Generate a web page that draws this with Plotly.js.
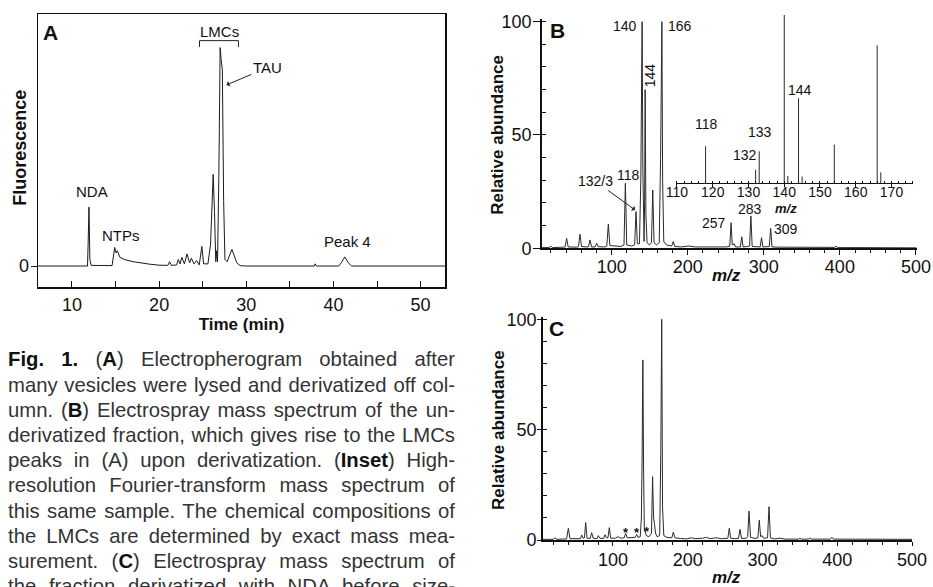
<!DOCTYPE html>
<html><head><meta charset="utf-8">
<script src="https://cdn.plot.ly/plotly-3.0.1.min.js"></script>
<style>
html,body{margin:0;padding:0;background:#fff;overflow:hidden;width:933px;height:587px;}
#chart{position:absolute;left:0;top:0;width:933px;height:587px;}
#cap{position:absolute;left:8px;top:347.4px;width:447px;font-family:"Liberation Sans",Arial,sans-serif;font-size:20.3px;line-height:25.2px;color:#333;}
#cap div{text-align:justify;text-align-last:justify;}
#cap b{color:#111;}
</style></head>
<body>
<div id="chart"></div>
<div id="cap">
<div><b>Fig. 1.</b> (<b>A</b>) Electropherogram obtained after</div>
<div>many vesicles were lysed and derivatized off col-</div>
<div>umn. (<b>B</b>) Electrospray mass spectrum of the un-</div>
<div>derivatized fraction, which gives rise to the LMCs</div>
<div>peaks in (A) upon derivatization. (<b>Inset</b>) High-</div>
<div>resolution Fourier-transform mass spectrum of</div>
<div>this same sample. The chemical compositions of</div>
<div>the LMCs are determined by exact mass mea-</div>
<div>surement. (<b>C</b>) Electrospray mass spectrum of</div>
<div>the fraction derivatized with NDA before size-</div>
</div>
<script>
// Panel A: electropherogram (time in min, fluorescence, relative units)
const timeA = [6.1, 11.6, 11.78, 11.85, 11.95, 12.05, 12.2, 14.6, 14.75, 14.9, 15.05, 15.2, 15.5, 16.0, 17.0, 18.0, 19.0, 20.0, 21.0, 21.2, 21.4, 22.0, 22.2, 22.4, 22.6, 22.9, 23.2, 23.5, 23.7, 24.0, 24.3, 24.6, 24.9, 25.1, 25.6, 25.9, 26.05, 26.2, 26.35, 26.5, 26.6, 26.7, 26.85, 27.0, 27.1, 27.25, 27.4, 27.55, 27.8, 28.1, 28.35, 28.6, 28.9, 29.3, 30, 37.8, 37.9, 38.05, 40.6, 40.9, 41.3, 41.7, 42.1, 52.8];
const fluorA = [0, 0, 0, 10, 27, 3, 0.3, 0.2, 5, 8.5, 6, 7, 4, 3, 2, 1.3, 0.8, 0.4, 0.3, 2, 0.3, 0.5, 3, 1, 4, 1, 5.5, 1.5, 3.6, 1, 2.5, 0.5, 9, 1, 1, 10, 30, 42, 25, 2, 7, 2, 41, 100, 95, 90, 30, 3, 2, 5, 7.6, 5, 1.5, 0.2, 0, 0, 1, 0, 0, 1.5, 4.2, 1.5, 0, 0];

// Panel B: electrospray spectrum of underivatized fraction
const mzB = [8, 18, 20, 22, 36, 38.8, 40.8, 42.8, 54, 56.3, 58.3, 60.3, 67.5, 69.5, 71.5, 73.5, 78.3, 80.3, 82.3, 91, 93.6, 95.6, 97.6, 106, 112, 116.2, 118, 119.8, 126, 130.2, 132, 133.8, 136.5, 138.3, 139, 140, 141, 141.8, 142.6, 143.3, 144, 145, 146.5, 149.5, 152.3, 154, 155.7, 159, 162.5, 164.3, 165.2, 166, 167, 168.5, 172, 179, 181, 183, 192, 201, 210, 225, 240, 250, 255.2, 257, 258.5, 261, 263, 269.2, 271, 272.8, 279, 281.3, 283, 284.7, 295.2, 297, 298.8, 307.2, 309, 310.8, 320, 340, 360, 380, 393.2, 395, 396.8, 420, 450, 480, 501];
const abundB = [0.3, 0.3, 1.0, 0.3, 0.5, 0.6, 4.4, 0.6, 0.5, 0.7, 6.2, 0.8, 0.6, 0.7, 3.7, 0.6, 0.6, 2.2, 0.7, 0.6, 1.0, 10.7, 1.2, 0.8, 0.8, 1.5, 28.7, 1.5, 1.0, 1.5, 16.2, 2.0, 2.0, 30, 57, 100, 35, 8, 3, 20, 70, 15, 2.5, 1.5, 2.5, 25.7, 2.5, 1.5, 2.5, 40, 60, 100, 30, 3, 1.5, 1.0, 3.0, 0.8, 0.6, 1.0, 0.6, 0.5, 0.5, 0.6, 0.8, 11.3, 1.5, 2.0, 0.6, 0.6, 5.1, 0.6, 0.8, 1.0, 14.3, 0.8, 0.6, 4.7, 0.6, 0.8, 8.8, 0.6, 0.5, 0.4, 0.4, 0.4, 0.4, 1.0, 0.3, 0.3, 0.3, 0.3, 0.2];

// Inset: high-resolution FT spectrum (stick peaks)
const mzInset = [118, 132, 133, 140, 141, 144, 145, 154, 166, 167];
const abundInset = [22, 8, 19, 100, 4.4, 50.5, 4, 23, 82, 6.5];

// Panel C: spectrum of NDA-derivatized fraction
const mzC = [6, 20, 22.5, 25, 38, 40.3, 42.5, 50, 56.5, 58.1, 60, 61.8, 63.5, 65.3, 69.5, 71.5, 73.5, 78.5, 80.4, 82.5, 87.5, 89.3, 91.3, 93.3, 95.1, 97, 103, 107, 110, 115, 117, 119, 125, 129.8, 131.7, 133.5, 136.5, 138, 139, 140, 141, 142, 143.3, 144.5, 148, 151.5, 153, 154.3, 155.5, 157, 159, 162.5, 164, 165.2, 166.3, 168, 172, 178.8, 180.7, 183, 190, 198, 205, 210, 220, 225, 230, 238, 245, 250, 253.7, 255.6, 257.5, 263, 268, 269.9, 272, 278, 280.2, 282, 284, 290, 293.8, 295.7, 297.5, 299.5, 301.5, 306.8, 308.7, 310.6, 316, 323, 330, 348, 350, 352, 361.5, 363.5, 365.5, 390.8, 392.8, 394.8, 420, 450, 480, 500];
const abundC = [0.3, 0.3, 1.0, 0.3, 0.5, 5.3, 0.6, 0.5, 0.6, 2.3, 0.8, 1.0, 7.9, 0.8, 0.7, 3.3, 0.8, 0.6, 2.0, 0.8, 0.7, 2.4, 1.0, 1.0, 5.6, 0.8, 0.8, 1.5, 0.8, 1.0, 3.0, 1.0, 1.2, 1.2, 2.5, 1.2, 1.5, 10, 38, 81.6, 30, 4, 4.0, 2.0, 1.5, 3, 28.7, 10, 7.5, 3, 1.5, 2, 41, 100, 15, 2, 1.2, 1.0, 3.5, 1.0, 0.7, 0.5, 1.0, 0.6, 0.8, 1.2, 0.6, 1.0, 0.6, 0.7, 0.8, 5.3, 0.8, 0.6, 0.7, 4.8, 0.7, 0.8, 1.5, 13.1, 1.2, 0.7, 1.0, 9.0, 1.5, 2.0, 0.8, 1.0, 15.1, 1.0, 0.5, 0.8, 0.4, 0.4, 0.8, 0.4, 0.4, 0.9, 0.4, 0.4, 1.2, 0.4, 0.3, 0.3, 0.3, 0.3];

// Labels
const labelsB = ["140", "166", "144", "118", "257", "283", "309"];
const labelsInset = ["118", "133", "132", "144"];
const ticksTime = [10, 20, 30, 40, 50];
const ticksMz = [100, 200, 300, 400, 500];
const ticksInset = [110, 120, 130, 140, 150, 160, 170];
const ticksAbund = [0, 50, 100];

// stick representation for inset
const stickX = [], stickY = [];
mzInset.forEach((m, i) => { stickX.push(m, m, null); stickY.push(0, abundInset[i], null); });

const W = 933, H = 587;
const px = v => v / W, py = v => 1 - v / H;
const FONT = '"Liberation Sans", Arial, Helvetica, sans-serif';
const INK = '#111';

const traces = [
  {x: timeA, y: fluorA, xaxis: 'x', yaxis: 'y', mode: 'lines', line: {color: '#1a1a1a', width: 1}, hoverinfo: 'skip'},
  {x: mzB, y: abundB, xaxis: 'x2', yaxis: 'y2', mode: 'lines', line: {color: '#2a2a2a', width: 1}, hoverinfo: 'skip'},
  {x: stickX, y: stickY, xaxis: 'x3', yaxis: 'y3', mode: 'lines', line: {color: '#2a2a2a', width: 1}, connectgaps: false, hoverinfo: 'skip'},
  {x: mzC, y: abundC, xaxis: 'x4', yaxis: 'y4', mode: 'lines', line: {color: '#2a2a2a', width: 1}, hoverinfo: 'skip'}
];

const ax = (o) => Object.assign({showgrid: false, zeroline: false, showline: true, linecolor: INK, linewidth: 1.5,
  tickcolor: INK, tickfont: {family: FONT, size: 18, color: INK}, fixedrange: true}, o);

const layout = {
  width: W, height: H, margin: {l: 0, r: 0, t: 0, b: 0},
  paper_bgcolor: '#fff', plot_bgcolor: 'rgba(0,0,0,0)', showlegend: false,
  font: {family: FONT, color: INK},
  xaxis: ax({domain: [px(38), px(445)], range: [6.1, 52.8], anchor: 'y', mirror: true,
    tickmode: 'array', tickvals: ticksTime, ticks: 'inside', ticklen: 6, ticklabelstandoff: 1,
    minor: {tickmode: 'array', tickvals: [15, 25, 35, 45], ticks: 'inside', ticklen: 6, tickcolor: INK},
    title: {text: '<b>Time (min)</b>', font: {size: 17, family: FONT, color: INK}, standoff: 4}}),
  yaxis: ax({domain: [py(287), py(14)], range: [-9.6, 115.4], anchor: 'x', mirror: true,
    tickmode: 'array', tickvals: [0], ticks: 'outside', ticklen: 6, ticklabelstandoff: -2}),
  xaxis2: ax({domain: [px(541.7), px(916.7)], range: [8, 501], anchor: 'y2',
    tickmode: 'array', tickvals: ticksMz, ticks: 'outside', ticklen: 5, ticklabelstandoff: -3,
    minor: {dtick: 20, tick0: 0, ticks: 'outside', ticklen: 3, tickcolor: INK}}),
  yaxis2: ax({domain: [py(248.3), py(19.4)], range: [0, 101], anchor: 'x2',
    tickmode: 'array', tickvals: ticksAbund, ticks: 'outside', ticklen: 7, ticklabelstandoff: -2,
    minor: {dtick: 10, tick0: 0, ticks: 'inside', ticklen: 4, tickcolor: INK}}),
  xaxis3: ax({domain: [px(675.7), px(913.3)], range: [109.64, 176.1], anchor: 'y3', linewidth: 1,
    tickmode: 'array', tickvals: ticksInset, ticks: 'outside', ticklen: 3, ticklabelstandoff: -7,
    tickfont: {family: FONT, size: 14, color: INK},
    minor: {dtick: 2, tick0: 110, ticks: 'inside', ticklen: 2, tickcolor: INK}}),
  yaxis3: {domain: [py(183.3), py(15)], range: [0, 100], anchor: 'x3', visible: false, fixedrange: true},
  xaxis4: ax({domain: [px(542.7), px(912)], range: [6, 500], anchor: 'y4',
    tickmode: 'array', tickvals: ticksMz, ticks: 'outside', ticklen: 4, ticklabelstandoff: -1,
    minor: {dtick: 20, tick0: 0, ticks: 'outside', ticklen: 3, tickcolor: INK}}),
  yaxis4: ax({domain: [py(540), py(317.1)], range: [0, 101], anchor: 'x4',
    tickmode: 'array', tickvals: ticksAbund, ticks: 'outside', ticklen: 4, ticklabelstandoff: -3,
    minor: {dtick: 10, tick0: 0, ticks: 'inside', ticklen: 4, tickcolor: INK}}),
  shapes: [
    {type: 'path', xref: 'x', yref: 'y', path: 'M 24.63 100.3 L 24.63 103.2 L 29.1 103.2 L 29.1 100.3',
     line: {color: '#222', width: 1}}
  ],
  annotations: []
};

const A = layout.annotations;
const t = (o) => A.push(Object.assign({showarrow: false, font: {family: FONT, size: 15, color: INK}}, o));
const pap = (x, y, text, size, extra) => t(Object.assign({xref: 'paper', yref: 'paper', x: px(x), y: py(y), xanchor: 'center', yanchor: 'middle', text: text, font: {family: FONT, size: size, color: INK}}, extra || {}));
// axis titles (placed as in the figure)
pap(19.3, 147.5, '<b>Fluorescence</b>', 18, {textangle: -90});
pap(496.7, 135, '<b>Relative abundance</b>', 17, {textangle: -90});
pap(498, 430, '<b>Relative abundance</b>', 17, {textangle: -90});
pap(726, 276, '<b><i>m/z</i></b>', 17);
pap(786, 208, '<b><i>m/z</i></b>', 13);
pap(726, 577, '<b><i>m/z</i></b>', 17);
// panel letters
pap(41, 32, '<b>A</b>', 21, {xanchor: 'left'});
pap(548.3, 30, '<b>B</b>', 21, {xanchor: 'left'});
pap(547.3, 328.3, '<b>C</b>', 21, {xanchor: 'left'});
// panel A labels
t({xref: 'x', yref: 'y', x: 12.26, y: 34, text: 'NDA'});
t({xref: 'x', yref: 'y', x: 15.58, y: 14.2, text: 'NTPs'});
t({xref: 'x', yref: 'y', x: 41.65, y: 11.1, text: 'Peak 4'});
t({xref: 'x', yref: 'y', x: 26.95, y: 107.2, text: 'LMCs'});
A.push({xref: 'x', yref: 'y', x: 27.72, y: 82.9, ax: 41, ay: -17.3, text: 'TAU', showarrow: true,
  arrowhead: 1, arrowsize: 1, arrowwidth: 1, arrowcolor: '#222', standoff: 0, font: {family: FONT, size: 15, color: INK}});
// panel B labels
const f14 = {family: FONT, size: 14, color: INK};
t({xref: 'x2', yref: 'y2', x: 136.5, y: 98.2, xanchor: 'right', text: labelsB[0], font: f14});
t({xref: 'x2', yref: 'y2', x: 171.5, y: 98.2, xanchor: 'left', text: labelsB[1], font: f14});
t({xref: 'x2', yref: 'y2', x: 150.6, y: 76.4, textangle: -90, text: labelsB[2], font: f14});
t({xref: 'x2', yref: 'y2', x: 122, y: 32.3, text: labelsB[3], font: f14});
t({xref: 'x2', yref: 'y2', x: 253.5, y: 11.3, xanchor: 'right', text: labelsB[4], font: f14});
t({xref: 'x2', yref: 'y2', x: 282, y: 17.3, text: labelsB[5], font: f14});
t({xref: 'x2', yref: 'y2', x: 310.5, y: 8.4, xanchor: 'left', text: labelsB[6], font: f14});
A.push({xref: 'x2', yref: 'y2', x: 130.8, y: 16.9, ax: -40, ay: -29, text: '132/3', showarrow: true,
  arrowhead: 1, arrowsize: 1, arrowwidth: 1, arrowcolor: '#222', standoff: 0, font: f14});
// inset labels
t({xref: 'x3', yref: 'y3', x: 118.3, y: 35.2, text: labelsInset[0], font: f14});
t({xref: 'x3', yref: 'y3', x: 133.2, y: 30.5, text: labelsInset[1], font: f14});
t({xref: 'x3', yref: 'y3', x: 129.0, y: 16.8, text: labelsInset[2], font: f14});
t({xref: 'x3', yref: 'y3', x: 144.4, y: 55.4, text: labelsInset[3], font: f14});
// panel C asterisks
[[117.4, 3.2], [131.7, 3.2], [145.9, 4.0]].forEach(p => t({xref: 'x4', yref: 'y4', x: p[0], y: p[1], text: '<b>*</b>', font: {family: FONT, size: 13, color: INK}}));

Plotly.newPlot('chart', traces, layout, {displayModeBar: false, staticPlot: true});
</script>
</body></html>
